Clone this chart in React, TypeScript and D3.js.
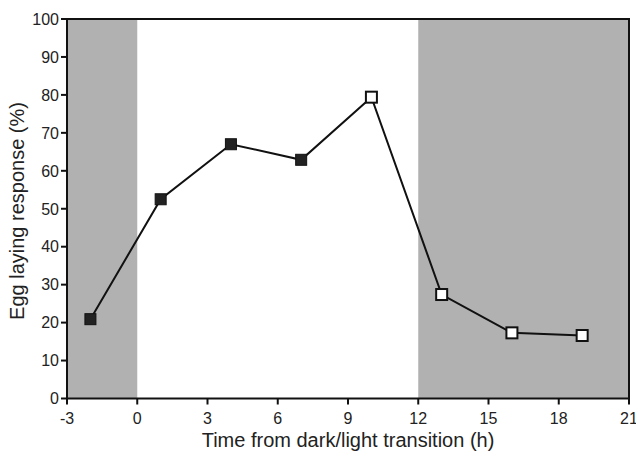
import React from "react";
import * as d3 from "d3";

const timesFilled = [-2, 1, 4, 7];
const valuesFilled = [20.9, 52.5, 67.0, 62.9];
const timesOpen = [10, 13, 16, 19];
const valuesOpen = [79.4, 27.4, 17.3, 16.6];
const xTicks = [-3, 0, 3, 6, 9, 12, 15, 18, 21];
const yTicks = [0, 10, 20, 30, 40, 50, 60, 70, 80, 90, 100];
const darkPeriods: [number, number][] = [[-3, 0], [12, 21]];

export default function App() {
  const W = 636, H = 452;
  const left = 67, right = 629, top = 19, bottom = 398.5;
  const x = d3.scaleLinear().domain([-3, 21]).range([left, right]);
  const y = d3.scaleLinear().domain([0, 100]).range([bottom, top]);
  const allT = [...timesFilled, ...timesOpen];
  const allV = [...valuesFilled, ...valuesOpen];
  const pts: [number, number][] = allT.map((t, i) => [x(t), y(allV[i])]);
  const line = d3.line()(pts) || "";
  const font = "Liberation Sans, Arial, Helvetica, sans-serif";
  const s = 11;
  return (
    <svg width={W} height={H} style={{ position: "absolute", left: 0, top: 0 }} fontFamily={font}>
      <rect x={0} y={0} width={W} height={H} fill="#fff" />
      {darkPeriods.map(([a, b], i) => (
        <rect key={i} x={x(a)} y={top} width={x(b) - x(a)} height={bottom - top} fill="#b1b1b1" />
      ))}
      <rect x={left} y={top} width={right - left} height={bottom - top} fill="none" stroke="#111" strokeWidth={2} />
      {yTicks.map((v) => (
        <g key={v}>
          <line x1={left - 6} x2={left} y1={y(v)} y2={y(v)} stroke="#111" strokeWidth={2} />
          <text x={left - 8} y={y(v)} dy="0.36em" textAnchor="end" fontSize={16} fill="#222">{v}</text>
        </g>
      ))}
      {xTicks.map((v) => (
        <g key={v}>
          <line x1={x(v)} x2={x(v)} y1={bottom} y2={bottom + 6} stroke="#111" strokeWidth={2} />
          <text x={x(v)} y={424} textAnchor="middle" fontSize={16} fill="#222">{v}</text>
        </g>
      ))}
      <path d={line} fill="none" stroke="#111" strokeWidth={2} />
      {timesFilled.map((t, i) => (
        <rect key={"f" + i} x={x(t) - s / 2} y={y(valuesFilled[i]) - s / 2} width={s} height={s} fill="#222" stroke="#111" strokeWidth={1} />
      ))}
      {timesOpen.map((t, i) => (
        <rect key={"o" + i} x={x(t) - s / 2} y={y(valuesOpen[i]) - s / 2} width={s} height={s} fill="#fff" stroke="#111" strokeWidth={2} />
      ))}
      <text x={348} y={447} textAnchor="middle" fontSize={20} fill="#222">Time from dark/light transition (h)</text>
      <text transform={`translate(24,${211}) rotate(-90)`} textAnchor="middle" fontSize={20} fill="#222">Egg laying response (%)</text>
    </svg>
  );
}
